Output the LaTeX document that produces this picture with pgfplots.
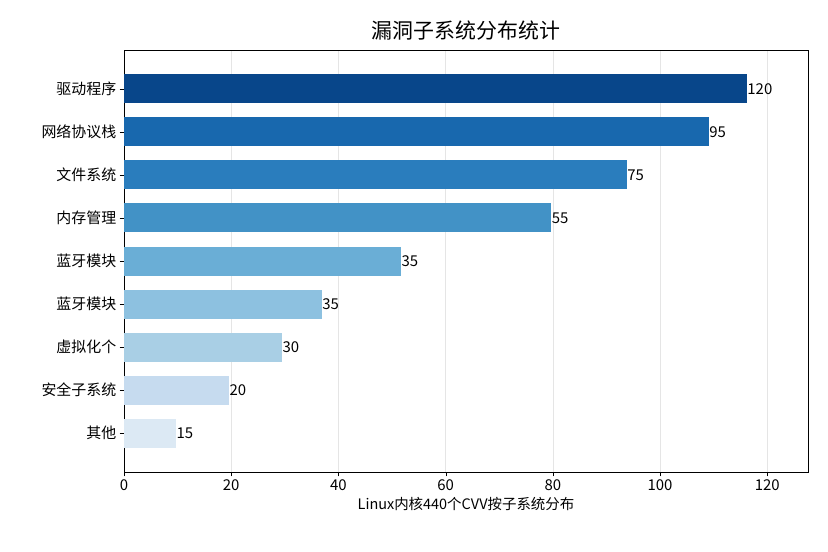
\documentclass[border=0pt]{standalone}
\usepackage{pgfplots}
\pgfplotsset{compat=1.18}
\usepackage{fontspec}
\setmainfont{Noto Sans CJK SC}
\setsansfont{Noto Sans CJK SC}
\definecolor{b1}{HTML}{08468A}
\definecolor{b2}{HTML}{1868AE}
\definecolor{b3}{HTML}{2A7DBD}
\definecolor{b4}{HTML}{4292C6}
\definecolor{b5}{HTML}{6AAED6}
\definecolor{b6}{HTML}{8DC1E0}
\definecolor{b7}{HTML}{A9CFE5}
\definecolor{b8}{HTML}{C6DBEF}
\definecolor{b9}{HTML}{DCE9F4}
\begin{document}
\begin{tikzpicture}
\begin{axis}[
  at={(0,0)}, anchor=south west, scale only axis,
  width=684bp, height=422bp,
  xmin=0, xmax=127.6, ymin=-0.9, ymax=8.9, y dir=reverse,
  xbar, bar shift=0pt, bar width=29bp,
  ytick={0,...,8},
  yticklabels={驱动程序,网络协议栈,文件系统,内存管理,蓝牙模块,蓝牙模块,虚拟化个,安全子系统,其他},
  xtick={0,20,...,120},
  xtick pos=bottom, ytick pos=left,
  /pgf/number format/assume math mode=true,
  tick label style={font=\fontsize{15}{17}\selectfont},
  xmajorgrids, major grid style={gray!20},
  tick align=outside, ytick style={draw=black}, xtick style={draw=black},
  xlabel={Linux内核440个CVV按子系统分布},
  xlabel style={font=\fontsize{14.5}{17}\selectfont},
  title={漏洞子系统分布统计},
  title style={font=\fontsize{21}{24}\selectfont},
  point meta=explicit symbolic,
  nodes near coords,
  nodes near coords style={font=\fontsize{15}{17}\selectfont, anchor=west, xshift=-3bp},
]
\addplot[fill=b1,draw=none] coordinates {(116.2,0)[120]};
\addplot[fill=b2,draw=none] coordinates {(109.1,1)[95]};
\addplot[fill=b3,draw=none] coordinates {(93.8,2)[75]};
\addplot[fill=b4,draw=none] coordinates {(79.7,3)[55]};
\addplot[fill=b5,draw=none] coordinates {(51.7,4)[35]};
\addplot[fill=b6,draw=none] coordinates {(36.9,5)[35]};
\addplot[fill=b7,draw=none] coordinates {(29.5,6)[30]};
\addplot[fill=b8,draw=none] coordinates {(19.6,7)[20]};
\addplot[fill=b9,draw=none] coordinates {(9.7,8)[15]};
\end{axis}
\pgfresetboundingbox
\path[use as bounding box] (-124bp,-80bp) rectangle (704bp,472bp);
\end{tikzpicture}
\end{document}
